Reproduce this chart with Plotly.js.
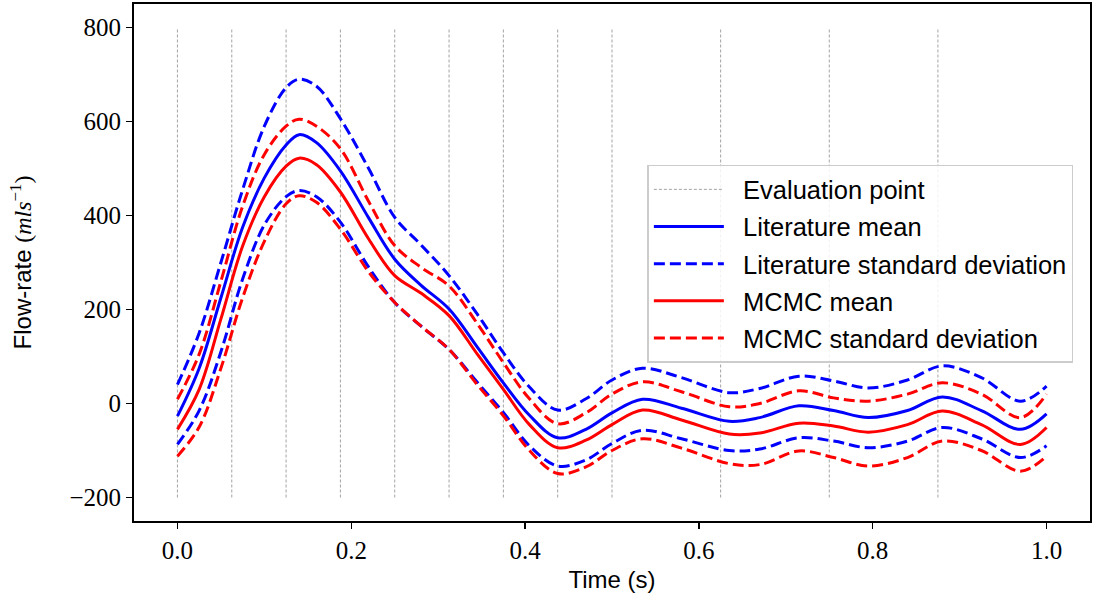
<!DOCTYPE html>
<html>
<head>
<meta charset="utf-8">
<script src="https://cdn.plot.ly/plotly-3.0.1.min.js"></script>
<style>
  html, body { margin: 0; padding: 0; background: #fff; }
  #chart { width: 1093px; height: 603px; }
</style>
</head>
<body>
<div id="chart"></div>
<script>
// ---- data ----
const time = [0, 0.025, 0.05, 0.075, 0.1, 0.125, 0.14, 0.16, 0.1875, 0.22, 0.25, 0.28, 0.3125, 0.345, 0.375, 0.405, 0.4375, 0.47, 0.5, 0.535, 0.58, 0.635, 0.67, 0.715, 0.755, 0.795, 0.84, 0.88, 0.925, 0.97, 1.0];

const litMean  = [-27, 75, 225, 375, 480, 550, 572, 555, 495, 395, 307, 252, 201, 120, 44, -25, -73, -55, -20, 9, -10, -38, -30, -5, -15, -30, -15, 14, -15, -55, -22];
const litUpper = [40, 150, 300, 455, 590, 672, 690, 675, 606, 500, 396, 338, 272, 190, 108, 35, -14, 10, 50, 75, 55, 23, 32, 58, 48, 33, 50, 80, 55, 5, 37];
const litLower = [-87, -15, 110, 265, 380, 440, 453, 440, 386, 290, 215, 165, 115, 45, -19, -90, -133, -120, -85, -57, -75, -100, -97, -73, -80, -94, -80, -51, -75, -115, -90];

const mcmcMean  = [-55, 30, 180, 335, 440, 505, 522, 508, 450, 350, 272, 235, 187, 105, 30, -45, -94, -78, -45, -14, -35, -65, -63, -42, -48, -61, -45, -16, -45, -87, -51];
const mcmcUpper = [9, 105, 260, 420, 530, 590, 605, 590, 542, 430, 336, 290, 250, 170, 87, 10, -43, -20, 20, 46, 25, -7, 0, 27, 12, 5, 20, 44, 20, -30, 20];
const mcmcLower = [-112, -50, 75, 225, 345, 425, 442, 428, 371, 280, 215, 165, 115, 40, -26, -100, -149, -135, -100, -75, -95, -128, -130, -101, -115, -133, -115, -80, -100, -144, -112];

const evalTimes = [0, 0.0625, 0.125, 0.1875, 0.25, 0.3125, 0.375, 0.4375, 0.5, 0.625, 0.75, 0.875];
const evalYMin = -200, evalYMax = 800;

const xTicks = [0, 0.2, 0.4, 0.6, 0.8, 1.0];
const xTickText = ['0.0', '0.2', '0.4', '0.6', '0.8', '1.0'];
const yTicks = [-200, 0, 200, 400, 600, 800];
const yTickText = ['\u2212200', '0', '200', '400', '600', '800'];

// ---- build traces ----
const evX = [], evY = [];
evalTimes.forEach(t => { evX.push(t, t, null); evY.push(evalYMin, evalYMax, null); });

const BLUE = '#0000ff', RED = '#ff0000';
const DASH = '11px,5px';
const LW = 3;
const PAD = '\u00a0\u00a0';
const traces = [
  { x: evX, y: evY, mode: 'lines', name: PAD + 'Evaluation point', legendgroup: 'g0',
    line: { color: '#999999', width: 0.9, dash: '3px,2px' }, hoverinfo: 'skip' },
  { x: time, y: litMean, mode: 'lines', name: PAD + 'Literature mean', legendgroup: 'g1',
    line: { color: BLUE, width: LW, shape: 'spline', smoothing: 1 } },
  { x: time, y: litUpper, mode: 'lines', name: PAD + 'Literature standard deviation', legendgroup: 'g2',
    line: { color: BLUE, width: LW, dash: DASH, shape: 'spline', smoothing: 1 } },
  { x: time, y: litLower, mode: 'lines', name: PAD + 'Literature standard deviation', legendgroup: 'g2', showlegend: false,
    line: { color: BLUE, width: LW, dash: DASH, shape: 'spline', smoothing: 1 } },
  { x: time, y: mcmcMean, mode: 'lines', name: PAD + 'MCMC mean', legendgroup: 'g3',
    line: { color: RED, width: LW, shape: 'spline', smoothing: 1 } },
  { x: time, y: mcmcUpper, mode: 'lines', name: PAD + 'MCMC standard deviation', legendgroup: 'g4',
    line: { color: RED, width: LW, dash: DASH, shape: 'spline', smoothing: 1 } },
  { x: time, y: mcmcLower, mode: 'lines', name: PAD + 'MCMC standard deviation', legendgroup: 'g4', showlegend: false,
    line: { color: RED, width: LW, dash: DASH, shape: 'spline', smoothing: 1 } }
];

const SERIF = '"Liberation Serif", "DejaVu Serif", serif';
const SANS = '"Liberation Sans", "DejaVu Sans", sans-serif';

const layout = {
  width: 1093, height: 603,
  margin: { l: 134, r: 3, t: 4, b: 82 },
  paper_bgcolor: '#ffffff', plot_bgcolor: '#ffffff',
  showlegend: true,
  xaxis: {
    range: [-0.05, 1.05], tickvals: xTicks, ticktext: xTickText,
    ticks: 'outside', ticklen: 6, tickwidth: 1.5, tickcolor: '#000',
    showgrid: false, zeroline: false, showline: true, mirror: true,
    linecolor: '#000', linewidth: 2,
    tickfont: { family: SERIF, size: 25, color: '#000' },
    title: { text: 'Time (s)', font: { family: SANS, size: 24, color: '#000' }, standoff: 8 }
  },
  yaxis: {
    range: [-250, 850], tickvals: yTicks, ticktext: yTickText,
    ticks: 'outside', ticklen: 6, tickwidth: 1.5, tickcolor: '#000',
    showgrid: false, zeroline: false, showline: true, mirror: true,
    linecolor: '#000', linewidth: 2,
    tickfont: { family: SERIF, size: 25, color: '#000' },
    title: {
      text: 'Flow-rate <span style="font-family:Liberation Serif">(<i>mls</i><sup>\u22121</sup>)</span>',
      font: { family: SANS, size: 24, color: '#000' }, standoff: 31
    }
  },
  legend: {
    x: 0.537, y: 0.689, xanchor: 'left', yanchor: 'top',
    bgcolor: 'rgba(255,255,255,0.85)', bordercolor: '#cccccc', borderwidth: 1.5,
    font: { family: SANS, size: 25.5, color: '#000' },
    itemwidth: 70, tracegroupgap: 1, traceorder: 'grouped'
  }
};

Plotly.newPlot('chart', traces, layout, { displayModeBar: false, staticPlot: true });
</script>
</body>
</html>
